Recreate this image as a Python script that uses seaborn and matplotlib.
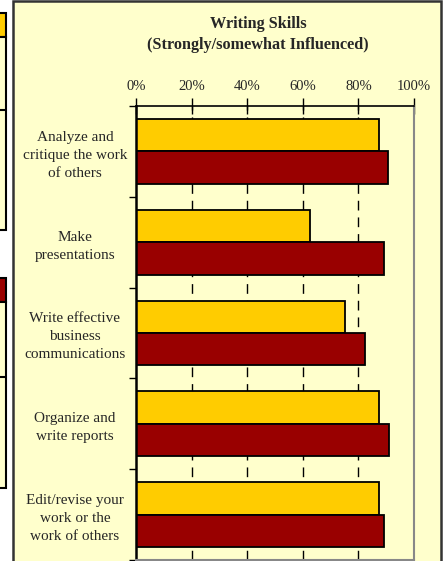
import pandas as pd
import matplotlib
matplotlib.use("Agg")
import matplotlib.pyplot as plt
from matplotlib.patches import Rectangle
from matplotlib.lines import Line2D
import seaborn as sns

sns.set_theme(style="white")
plt.rcParams["font.family"] = ["Liberation Serif", "DejaVu Serif"]

# data (percent strongly/somewhat influenced)
skills = [
    "Analyze and\ncritique the work\nof others",
    "Make\npresentations",
    "Write effective\nbusiness\ncommunications",
    "Organize and\nwrite reports",
    "Edit/revise your\nwork or the\nwork of others",
]
groups = ["Group 1", "Group 2"]
group1_pct = [87.4, 62.5, 75.0, 87.4, 87.4]
group2_pct = [90.5, 89.2, 82.2, 91.1, 89.3]
xticks = [0, 20, 40, 60, 80, 100]
xtick_labels = ["0%", "20%", "40%", "60%", "80%", "100%"]

df = pd.DataFrame({
    "skill": skills * 2,
    "group": [groups[0]] * len(skills) + [groups[1]] * len(skills),
    "pct": group1_pct + group2_pct,
})

W, H = 443, 561
BG = "#FFFFCC"
YELLOW = "#FFCC00"
RED = "#990000"

fig = plt.figure(figsize=(W / 100, H / 100), dpi=100, facecolor="white")


def fx(x):
    return x / W


def fy(y):
    return 1 - y / H


def box(x0, y0, x1, y1, **kw):
    fig.add_artist(Rectangle((fx(x0), fy(y1)), fx(x1) - fx(x0), fy(y0) - fy(y1),
                             transform=fig.transFigure, zorder=-5, **kw))


def hline(x0, x1, y, **kw):
    fig.add_artist(Line2D([fx(x0), fx(x1)], [fy(y), fy(y)], transform=fig.transFigure,
                          zorder=-4, **kw))


# neighbouring chart bits on the far left
box(-5, 13, 5.5, 37, facecolor=YELLOW, edgecolor="black", lw=1.5)
box(-5, 37, 5.5, 230, facecolor=BG, edgecolor="black", lw=1.5)
hline(-5, 5.5, 110, color="black", lw=1.5)
box(-5, 278, 5.5, 302, facecolor=RED, edgecolor="black", lw=1.5)
box(-5, 302, 5.5, 488, facecolor=BG, edgecolor="black", lw=1.5)
hline(-5, 5.5, 377, color="black", lw=1.5)

# main chart frame
box(13, 1, 441, 565, facecolor=BG, edgecolor="#333333", lw=1.8)

ax = fig.add_axes([fx(136), fy(560), fx(414) - fx(136), fy(106) - fy(560)])
ax.set_zorder(2)
ax.set_facecolor(BG)

sns.barplot(data=df, y="skill", x="pct", hue="group", palette=[YELLOW, RED],
            orient="h", width=0.714, saturation=1, edgecolor="black",
            linewidth=1.3, legend=False, ax=ax)

ax.set_xlim(0, 100)
ax.set_ylim(4.5, -0.5)
ax.set_xlabel("")
ax.set_ylabel("")

ax.xaxis.tick_top()
ax.set_xticks(xticks)
ax.set_xticklabels(xtick_labels, fontsize=10.5)
ax.tick_params(axis="x", direction="inout", length=12, width=1, color="black",
               pad=3, top=True, bottom=False)

ax.set_yticks(range(len(skills)))
ax.set_yticklabels(skills, fontsize=11, ha="center", multialignment="center",
                   linespacing=1.5)
ax.tick_params(axis="y", length=0, pad=44)
ax.set_yticks([i - 0.5 for i in range(len(skills) + 1)], minor=True)
ax.tick_params(axis="y", which="minor", direction="out", length=5, width=1,
               color="black", left=True)

ax.grid(axis="x", color="black", linestyle=(0, (7, 5)), linewidth=1)
ax.set_axisbelow(True)
for gl, t in zip(ax.get_xgridlines(), xticks):
    if t in (0, 100):
        gl.set_visible(False)

ax.spines["left"].set_color("black")
ax.spines["left"].set_linewidth(1.8)
ax.spines["top"].set_color("black")
ax.spines["top"].set_linewidth(1.2)
ax.spines["right"].set_color("#888888")
ax.spines["right"].set_linewidth(1.5)
ax.spines["bottom"].set_color("#888888")
ax.spines["bottom"].set_linewidth(1.5)

fig.text(fx(258), fy(24), "Writing Skills", ha="center", va="center",
         fontsize=11.7, fontweight="bold")
fig.text(fx(258), fy(45), "(Strongly/somewhat Influenced)", ha="center", va="center",
         fontsize=11.7, fontweight="bold")

fig.savefig("out.png", dpi=100, facecolor="white")
